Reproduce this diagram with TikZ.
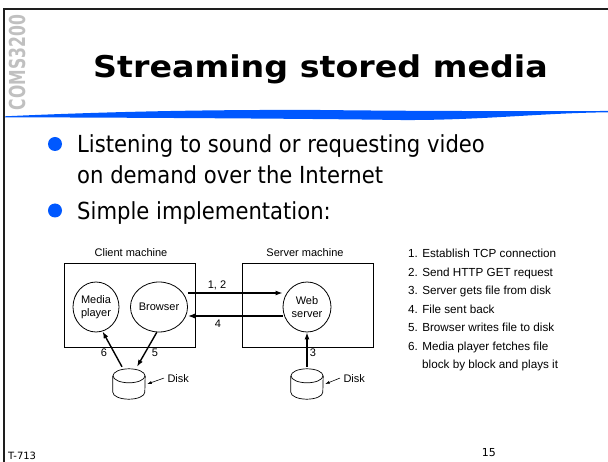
\documentclass[tikz,border=0pt]{standalone}
\usepackage{fontspec}
\setmainfont{DejaVu Sans}
\newfontfamily\figfont{Liberation Sans}
\usetikzlibrary{arrows.meta,shapes.geometric}
\definecolor{slideblue}{RGB}{0,88,255}
\definecolor{tabgray}{RGB}{192,192,192}
\definecolor{framegray}{RGB}{30,30,30}
\newcommand{\bultext}[1]{\scalebox{0.9}[1]{\fontsize{23.5}{28}\selectfont #1}}
\begin{document}
\begin{tikzpicture}[x=1pt,y=-1pt,
  figtext/.style={font=\figfont\fontsize{11}{13}\selectfont},
  machine/.style={draw, line width=0.8pt, minimum width=131pt, minimum height=84pt, inner sep=0pt},
  proc/.style={ellipse, draw, line width=0.8pt, minimum width=48pt, minimum height=50pt, inner sep=0pt, align=center, figtext},
  flow/.style={line width=1.4pt, -{Latex[length=7pt,width=5pt]}},
  leader/.style={line width=0.6pt, -{Latex[length=4.5pt,width=3pt]}},
  steplbl/.style={figtext, inner sep=0pt},
  listline/.style={font=\figfont\fontsize{11.7}{14}\selectfont, anchor=base west, inner sep=0pt},
  bulletline/.style={anchor=base west, inner sep=0pt},
  bulletdot/.style={circle, fill=slideblue, minimum size=14pt, inner sep=0pt},
  diskbox/.style={minimum width=32pt, minimum height=32pt, inner sep=0pt}
]
\useasboundingbox (0,0) rectangle (608,462);
\fill[white] (0,0) rectangle (608,462);

% slide frame
\draw[framegray, line width=1.6pt] (3,9) -- (608,9);
\draw[framegray, line width=2pt] (4,9) -- (4,462);

% course tab
\node[rotate=90, inner sep=0pt, text=tabgray] (tab) at (17,62.5)
  {\scalebox{0.71}[1]{\fontsize{22}{26}\selectfont\bfseries COMS3200}};

% title and underline swoosh
\node[anchor=base west, inner sep=0pt] (title) at (93,77.7)
  {\scalebox{1.11}[1]{\fontsize{30}{36}\selectfont\bfseries Streaming stored media}};
\fill[slideblue] (5,116.3) .. controls (100,112) and (200,109.5) .. (320,110)
  .. controls (450,111.5) and (550,111) .. (608,111)
  -- (608,112.3) .. controls (540,113) and (480,120.5) .. (400,120)
  .. controls (300,118.5) and (100,117.5) .. (5,117.3) -- cycle;

% bullets
\node[bulletdot] (dot1) at (55,144) {};
\node[bulletline] (b1) at (77,152.7) {\bultext{Listening to sound or requesting video}};
\node[bulletline] (b1b) at (77,183.3) {\bultext{on demand over the Internet}};
\node[bulletdot] (dot2) at (55,210.5) {};
\node[bulletline] (b2) at (77,220) {\bultext{Simple implementation:}};

% machines
\node[machine] (client) at (129.5,305) {};
\node[machine] (server) at (307.5,305) {};
\node[figtext, anchor=base] (clientlbl) at (131,257) {Client machine};
\node[figtext, anchor=base] (serverlbl) at (305,257) {Server machine};

% processes
\node[proc, minimum width=46pt] (media) at (96,307) {Media\\player};
\node[proc] (browser) at (159,307) {Browser};
\node[proc] (web) at (307,307) {Web\\server};

% disks
\node[diskbox] (cdisk) at (129,383) {};
\node[diskbox] (sdisk) at (307,383) {};
\foreach \d in {cdisk,sdisk}{
  \draw[line width=0.7pt] ([yshift=-9pt]\d.north) ellipse [x radius=16pt, y radius=7pt];
  \draw[line width=0.7pt] ([yshift=-9pt]\d.north west) -- ([yshift=7pt]\d.south west)
    arc [start angle=180, end angle=360, x radius=16pt, y radius=7pt]
    -- ([yshift=-9pt]\d.north east);
}
\node[figtext, anchor=base west] (cdisklbl) at (164,382) {Disk};
\node[figtext, anchor=base west] (sdisklbl) at (340,382) {Disk};
\draw[leader] (cdisklbl.west) -- ([xshift=2pt,yshift=-1pt]cdisk.east);
\draw[leader] (sdisklbl.west) -- ([xshift=2pt,yshift=-1pt]sdisk.east);

% data flows
\draw[flow] ([yshift=14pt]browser.east) -- ([yshift=14pt]web.west);
\draw[flow] ([yshift=-9pt]web.west) -- ([yshift=-9pt]browser.east);
\draw[flow] ([xshift=-7pt]cdisk.north) -- (media.-75);
\draw[flow] (browser.-95) -- ([xshift=8pt]cdisk.north);
\draw[flow] (sdisk.north) -- (web.south);

\node[steplbl] (l12) at (217,285) {1, 2};
\node[steplbl] (l4) at (218,324) {4};
\node[steplbl] (l6) at (104,353) {6};
\node[steplbl] (l5) at (155,353) {5};
\node[steplbl] (l3) at (313,353) {3};

% step list
\node[listline] (s1) at (408,258) {1. Establish TCP connection};
\node[listline] (s2) at (408,276.5) {2. Send HTTP GET request};
\node[listline] (s3) at (408,295) {3. Server gets file from disk};
\node[listline] (s4) at (408,313.5) {4. File sent back};
\node[listline] (s5) at (408,332) {5. Browser writes file to disk};
\node[listline] (s6) at (408,350.5) {6. Media player fetches file};
\node[listline] (s6b) at (422,369) {block by block and plays it};

% footer
\node[anchor=base west, inner sep=0pt, font=\fontsize{10}{12}\selectfont] (code) at (8,459) {T-713};
\node[anchor=base east, inner sep=0pt, font=\fontsize{11}{13}\selectfont] (page) at (496,456.5) {15};
\end{tikzpicture}
\end{document}
